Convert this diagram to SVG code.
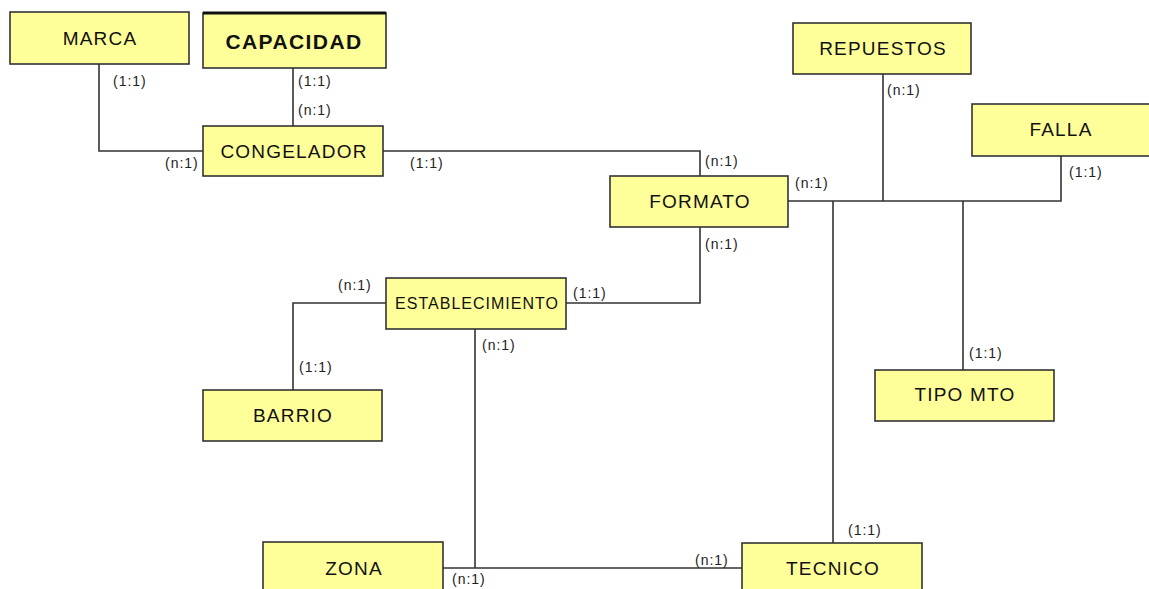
<svg xmlns="http://www.w3.org/2000/svg" width="1149" height="589" viewBox="0 0 1149 589">
<style>
.box{fill:#FFFF99;stroke:#333;stroke-width:1.6}
.t{font-family:"Liberation Sans",Arial,sans-serif;font-size:19px;letter-spacing:1.2px;fill:#111;text-anchor:middle}
.tb{font-family:"Liberation Sans",Arial,sans-serif;font-size:21px;font-weight:bold;letter-spacing:1.4px;fill:#111;text-anchor:middle}
.ts{font-family:"Liberation Sans",Arial,sans-serif;font-size:16px;letter-spacing:1px;fill:#111;text-anchor:middle}
.c{fill:none;stroke:#333;stroke-width:1.6}
.l{font-family:"Liberation Sans",Arial,sans-serif;font-size:14px;letter-spacing:1px;fill:#222}
</style>
<rect width="1149" height="589" fill="#fff"/>
<g id="connectors">
<polyline class="c" points="99,64 99,151 203,151"/>
<line class="c" x1="293" y1="68" x2="293" y2="126"/>
<polyline class="c" points="383,151 700,151 700,176"/>
<polyline class="c" points="700,227 700,303 566,303"/>
<polyline class="c" points="386,303 293,303 293,390"/>
<line class="c" x1="475" y1="329" x2="475" y2="568"/>
<line class="c" x1="443" y1="568" x2="742" y2="568"/>
<polyline class="c" points="788,201 1061,201 1061,156"/>
<line class="c" x1="883" y1="74" x2="883" y2="201"/>
<line class="c" x1="833" y1="201" x2="833" y2="543"/>
<line class="c" x1="963" y1="201" x2="963" y2="370"/>
<g>
<text class="l" x="113" y="86">(1:1)</text>
<text class="l" x="298" y="86">(1:1)</text>
<text class="l" x="298" y="115">(n:1)</text>
<text class="l" x="165" y="168">(n:1)</text>
<text class="l" x="410" y="168">(1:1)</text>
<text class="l" x="705" y="166">(n:1)</text>
<text class="l" x="795" y="188">(n:1)</text>
<text class="l" x="887" y="95">(n:1)</text>
<text class="l" x="1069" y="177">(1:1)</text>
<text class="l" x="705" y="249">(n:1)</text>
<text class="l" x="573" y="298">(1:1)</text>
<text class="l" x="338" y="290">(n:1)</text>
<text class="l" x="299" y="372">(1:1)</text>
<text class="l" x="482" y="350">(n:1)</text>
<text class="l" x="969" y="358">(1:1)</text>
<text class="l" x="848" y="535">(1:1)</text>
<text class="l" x="695" y="565">(n:1)</text>
<text class="l" x="452" y="584">(n:1)</text>
</g>
</g>
<g id="marca"><rect class="box" x="10" y="12" width="179" height="52"/><text class="t" x="100" y="45">MARCA</text></g>
<g id="capacidad"><rect class="box" x="203" y="13" width="183" height="55"/><line x1="203" y1="13" x2="386" y2="13" stroke="#111" stroke-width="3"/><text class="tb" x="294" y="49">CAPACIDAD</text></g>
<g id="congelador"><rect class="box" x="203" y="126" width="180" height="50"/><text class="t" x="294" y="158">CONGELADOR</text></g>
<g id="formato"><rect class="box" x="610" y="176" width="178" height="51"/><text class="t" x="700" y="208">FORMATO</text></g>
<g id="repuestos"><rect class="box" x="793" y="23" width="178" height="51"/><text class="t" x="883" y="55">REPUESTOS</text></g>
<g id="falla"><rect class="box" x="972" y="104" width="180" height="52"/><text class="t" x="1061" y="136">FALLA</text></g>
<g id="establecimiento"><rect class="box" x="386" y="278" width="180" height="51"/><text class="ts" x="477" y="309">ESTABLECIMIENTO</text></g>
<g id="barrio"><rect class="box" x="203" y="390" width="179" height="51"/><text class="t" x="293" y="422">BARRIO</text></g>
<g id="tipomto"><rect class="box" x="875" y="370" width="179" height="51"/><text class="t" x="965" y="401">TIPO MTO</text></g>
<g id="zona"><rect class="box" x="263" y="542" width="180" height="60"/><text class="t" x="354" y="575">ZONA</text></g>
<g id="tecnico"><rect class="box" x="742" y="543" width="180" height="60"/><text class="t" x="833" y="575">TECNICO</text></g>
</svg>
